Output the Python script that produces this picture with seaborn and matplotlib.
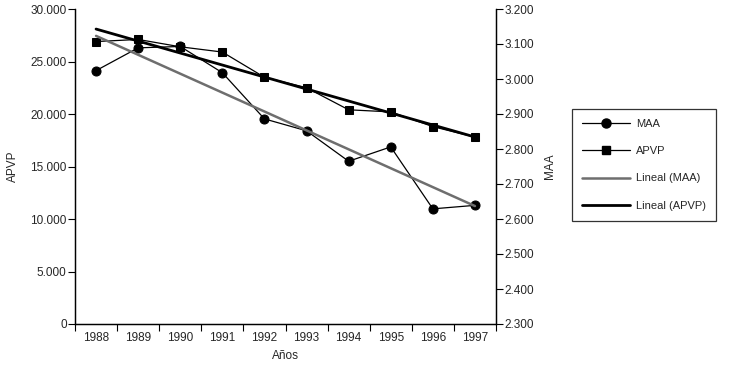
import numpy as np
import pandas as pd
import matplotlib
matplotlib.use('Agg')
import matplotlib.pyplot as plt
from matplotlib.lines import Line2D
from matplotlib.ticker import FuncFormatter, MultipleLocator, FixedLocator
import seaborn as sns

# datos
anios = ['1988', '1989', '1990', '1991', '1992', '1993', '1994', '1995', '1996', '1997']
apvp = [26900, 27100, 26400, 25900, 23500, 22500, 20400, 20200, 18800, 17800]
maa = [3024, 3089, 3093, 3018, 2886, 2852, 2765, 2806, 2629, 2639]

sns.set_style('white')
plt.rcParams['font.family'] = ['Liberation Sans Narrow', 'Liberation Sans', 'DejaVu Sans']
plt.rcParams['font.size'] = 8

df = pd.DataFrame({'pos': np.arange(len(anios)), 'anio': anios, 'APVP': apvp, 'MAA': maa})

fig = plt.figure(figsize=(7.3, 3.7), dpi=100)
ax = fig.add_axes([75/730, 1-324/370, 421/730, 315/370])
ax2 = ax.twinx()

# APVP (eje izquierdo)
sns.lineplot(data=df, x='pos', y='APVP', ax=ax, color='black', lw=0.9,
             marker='s', markersize=5.2, markeredgecolor='black')
sns.regplot(data=df, x='pos', y='APVP', ax=ax, scatter=False, ci=None,
            line_kws=dict(color='black', lw=2))

# MAA (eje derecho)
sns.lineplot(data=df, x='pos', y='MAA', ax=ax2, color='black', lw=0.9,
             marker='o', markersize=6.5, markeredgecolor='black')
sns.regplot(data=df, x='pos', y='MAA', ax=ax2, scatter=False, ci=None,
            line_kws=dict(color='#6e6e6e', lw=1.8))

fmt = FuncFormatter(lambda v, p: f'{v:,.0f}'.replace(',', '.'))

ax.set_xlim(-0.5, 9.5)
ax.set_ylim(0, 30000)
ax.yaxis.set_major_locator(MultipleLocator(5000))
ax.yaxis.set_major_formatter(fmt)
ax2.set_ylim(2300, 3200)
ax2.yaxis.set_major_locator(MultipleLocator(100))
ax2.yaxis.set_major_formatter(fmt)

ax.set_xticks(df['pos'])
ax.set_xticklabels(anios)
ax.xaxis.set_minor_locator(FixedLocator(np.arange(-0.5, 10, 1)))
ax.tick_params(axis='x', which='major', length=0, pad=6, labelsize=8.5)
ax.tick_params(axis='x', which='minor', length=5, width=0.8, color='black', direction='out', bottom=True)
ax.tick_params(axis='y', length=5, width=0.8, color='black', direction='out', left=True, labelsize=8.5, pad=1)
ax2.tick_params(axis='y', length=5, width=0.8, color='black', direction='out', right=True, labelsize=8.5, pad=1)

for a in (ax, ax2):
    a.spines['top'].set_visible(False)
    for s in ('left', 'right', 'bottom'):
        a.spines[s].set_color('black')
        a.spines[s].set_linewidth(0.9)
    a.grid(False)

ax.set_xlabel('Años', fontsize=8.5, labelpad=4)
ax.set_ylabel('APVP', fontsize=8.5, labelpad=8)
ax2.set_ylabel('MAA', fontsize=8.5, labelpad=7)

handles = [
    Line2D([], [], color='black', lw=0.9, marker='o', markersize=6.5),
    Line2D([], [], color='black', lw=0.9, marker='s', markersize=5.2),
    Line2D([], [], color='#6e6e6e', lw=1.8),
    Line2D([], [], color='black', lw=2),
]
labels = ['MAA', 'APVP', 'Lineal (MAA)', 'Lineal (APVP)']
leg = fig.legend(handles, labels, loc='upper left', bbox_to_anchor=(572/730, 1-109/370),
                 frameon=True, fancybox=False, edgecolor='black', fontsize=8,
                 handlelength=4.3, labelspacing=1.55, borderpad=0.9, handletextpad=0.6,
                 borderaxespad=0)
leg.get_frame().set_linewidth(0.9)

fig.savefig('out.png', dpi=100)
